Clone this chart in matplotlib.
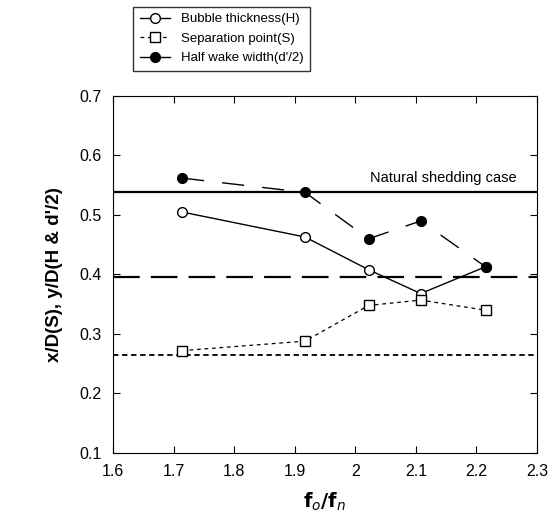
import matplotlib
matplotlib.use("Agg")
import matplotlib.pyplot as plt
from matplotlib.lines import Line2D

plt.rcParams['font.family'] = ['Liberation Sans', 'DejaVu Sans']

freq = [1.714, 1.917, 2.022, 2.108, 2.215]
bubble_H = [0.505, 0.463, 0.408, 0.368, 0.413]
separation_S = [0.272, 0.288, 0.348, 0.357, 0.340]
half_wake = [0.562, 0.538, 0.460, 0.490, 0.413]
natural_half_wake = 0.538
natural_bubble = 0.395
natural_separation = 0.265
xticks = [1.6, 1.7, 1.8, 1.9, 2.0, 2.1, 2.2, 2.3]
xticklabels = ['1.6', '1.7', '1.8', '1.9', '2', '2.1', '2.2', '2.3']
yticks = [0.1, 0.2, 0.3, 0.4, 0.5, 0.6, 0.7]

fig = plt.figure(figsize=(5.55, 5.26), dpi=100)
ax = fig.add_axes([0.2036, 0.1388, 0.764, 0.6787])

ax.axhline(natural_half_wake, color='black', lw=1.6, ls='-')
ax.axhline(natural_bubble, color='black', lw=1.6, ls=(0, (12, 5)))
ax.axhline(natural_separation, color='black', lw=1.3, ls=(0, (3, 2)))

ax.plot(freq, bubble_H, color='black', lw=1.0, marker='o', ms=7,
        markerfacecolor='white', markeredgecolor='black', zorder=3)
ax.plot(freq, separation_S, color='black', lw=0.9, ls=(0, (3, 3)), marker='s', ms=7,
        markerfacecolor='white', markeredgecolor='black', zorder=3)
ax.plot(freq, half_wake, color='black', lw=1.0, ls=(0, (16, 13)), marker='o', ms=7,
        markerfacecolor='black', markeredgecolor='black', zorder=4)

ax.text(2.266, 0.562, 'Natural shedding case', ha='right', va='center', fontsize=10.5)

ax.set_xlim(1.6, 2.3)
ax.set_ylim(0.1, 0.7)
ax.set_xticks(xticks)
ax.set_xticklabels(xticklabels)
ax.set_yticks(yticks)
ax.tick_params(direction='in', length=5, labelsize=11.5, top=True, right=True, pad=8)
ax.set_ylabel("x/D(S), y/D(H & d'/2)", fontsize=13.5, fontweight='bold', labelpad=12)
ax.set_xlabel(r"$\mathbf{f}_{\mathit{o}}\mathbf{/f}_{\mathit{n}}$", fontsize=14, labelpad=8)

handles = [
    Line2D([], [], color='black', lw=1.0, marker='o', ms=7, markerfacecolor='white'),
    Line2D([], [], color='black', lw=0.9, ls=(0, (3, 3)), marker='s', ms=7, markerfacecolor='white'),
    Line2D([], [], color='black', lw=1.0, marker='o', ms=7, markerfacecolor='black'),
]
labels = ['Bubble thickness(H)', 'Separation point(S)', "Half wake width(d'/2)"]
leg = fig.legend(handles, labels, loc='upper left', bbox_to_anchor=(0.228, 1.0),
                 fontsize=9.5, frameon=True, fancybox=False, edgecolor='black',
                 handlelength=2.3, borderpad=0.5, labelspacing=0.55)
leg.get_frame().set_linewidth(1.0)

fig.savefig('out.png', dpi=100)
